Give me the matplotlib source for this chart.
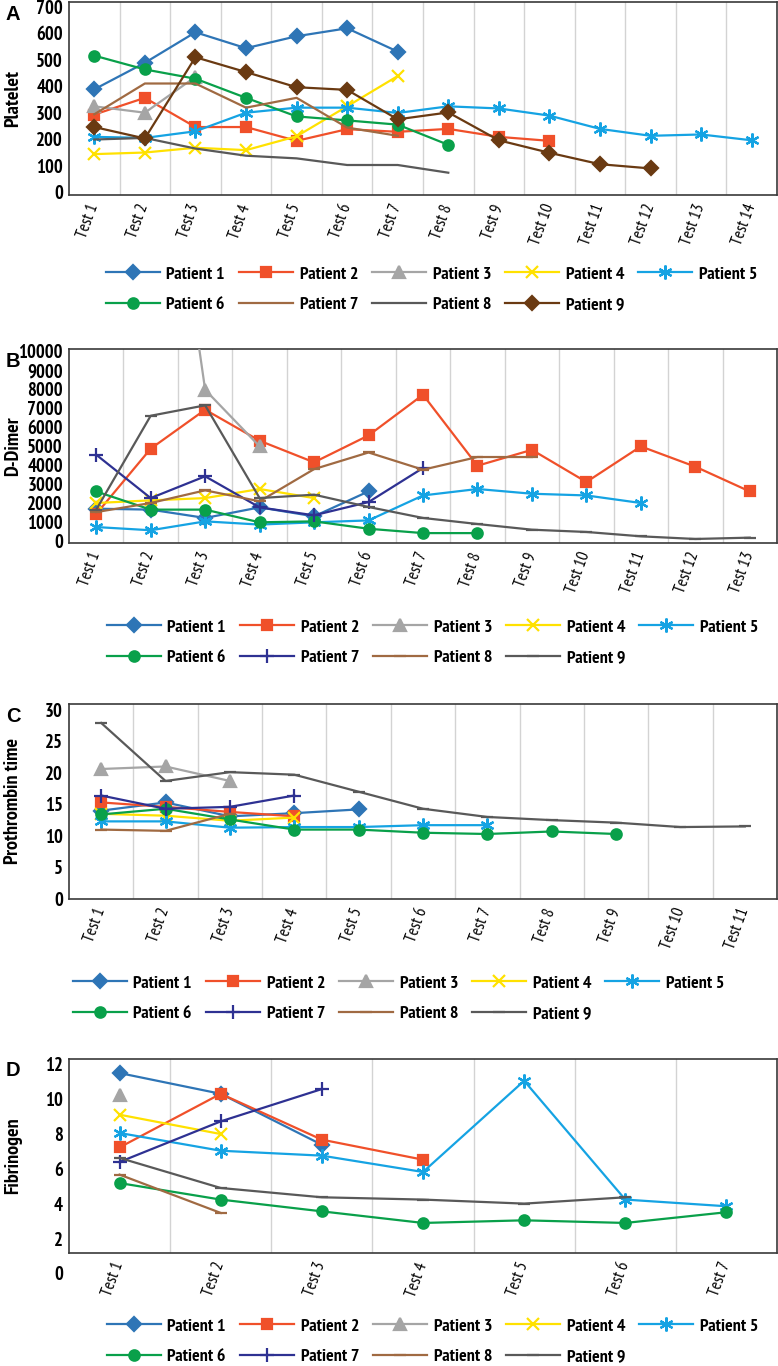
import numpy as np
import matplotlib
matplotlib.use('Agg')
import matplotlib.pyplot as plt

# condensed font first, fall back to whatever is installed
plt.rcParams['font.family'] = ['Liberation Sans Narrow', 'PT Sans Narrow', 'Asap Condensed',
                               'Barlow Semi Condensed', 'DejaVu Sans']

nan = np.nan
W, H = 778, 1366

patients = ['Patient 1', 'Patient 2', 'Patient 3', 'Patient 4', 'Patient 5',
            'Patient 6', 'Patient 7', 'Patient 8', 'Patient 9']

# ---- A: Platelet ----
platelet_tests = ['Test %d' % i for i in range(1, 15)]
platelet = [
    [388, 488, 603, 543, 588, 618, 530],
    [293, 356, 246, 246, 194, 238, 228, 239, 209, 194],
    [324, 300, 435],
    [144, 150, 168, 159, 211, 324, 438],
    [209, 205, 230, 300, 319, 319, 299, 324, 316, 289, 239, 213, 218, 196],
    [515, 463, 428, 356, 286, 271, 255, 179],
    [294, 410, 410, 319, 356, 244, 213],
    [199, 205, 165, 138, 128, 103, 103, 74],
    [246, 203, 509, 453, 396, 386, 275, 301, 196, 149, 106, 90],
]

# ---- B: D-Dimer ----
ddimer_tests = ['Test %d' % i for i in range(1, 14)]
ddimer = [
    [1690, 1640, 1200, 1760, 1285, 2605],
    [1410, 4860, 6920, 5280, 4140, 5560, 7710, 3960, 4800, 3100, 4980, 3910, 2600],
    [nan, 28000, 7970, 4980],
    [1990, 2130, 2250, 2730, 2250],
    [720, 550, 1020, 850, 970, 1070, 2390, 2730, 2480, 2390, 1990],
    [2600, 1640, 1640, 970, 1020, 630, 400, 400],
    [4540, 2250, 3400, 1760, 1340, 2040, 3840],
    [1510, 1990, 2660, 2080, 3780, 4660, 3750, 4420, 4420],
    [1640, 6600, 7150, 2250, 2430, 1780, 1200, 880, 580, 460, 230, 90, 160],
]

# ---- C: Prothrombin time ----
pt_tests = ['Test %d' % i for i in range(1, 12)]
prothrombin = [
    [14.0, 15.3, 13.1, 13.6, 14.2],
    [15.3, 14.6, 13.8, 13.1],
    [20.6, 21.0, 18.7],
    [13.5, 13.2, 12.4, 12.9],
    [12.3, 12.3, 11.3, 11.4, 11.4, 11.7, 11.7],
    [13.4, 14.3, 12.6, 11.0, 11.0, 10.5, 10.3, 10.7, 10.3],
    [16.4, 14.3, 14.6, 16.4],
    [11.0, 10.8, 13.5],
    [27.9, 18.7, 20.1, 19.7, 17.0, 14.3, 13.0, 12.5, 12.1, 11.4, 11.5],
]

# ---- D: Fibrinogen ----
fib_tests = ['Test %d' % i for i in range(1, 8)]
fibrinogen = [
    [11.47, 10.29, 7.39],
    [7.24, 10.29, 7.68, 6.54],
    [10.24],
    [9.10, 8.00],
    [8.06, 7.05, 6.77, 5.84, 11.03, 4.27, 3.89],
    [5.21, 4.27, 3.60, 2.94, 3.09, 2.94, 3.55],
    [6.41, 8.72, 10.56],
    [5.69, 3.51],
    [6.64, 4.93, 4.40, 4.27, 4.04, 4.40],
]

# colours / markers
BLUE, ORANGE, GRAY, YELLOW = '#2E75B6', '#F0502A', '#A5A5A5', '#FFE100'
SKY, GREEN, BROWN, DKGRAY = '#15A3E3', '#09A04A', '#A06A42', '#595959'
DKBROWN, NAVY = '#6A3A12', '#2E3192'
ASTER = (6, 2, 0)
base = [(BLUE, 'D', 7), (ORANGE, 's', 7), (GRAY, '^', 8), (YELLOW, 'x', 9),
        (SKY, ASTER, 10), (GREEN, 'o', 7.5)]
styles_a = base + [(BROWN, None, 0), (DKGRAY, None, 0), (DKBROWN, 'D', 7)]
styles_bcd = base + [(NAVY, '+', 10), (BROWN, '_', 8), (DKGRAY, '_', 8)]

# legend fills column by column -> reorder so rows read 1..5 / 6..9
leg_order = [0, 5, 1, 6, 2, 7, 3, 8, 4]

fig = plt.figure(figsize=(W / 100, H / 100), dpi=100)


def panel(top, bottom, letter, ylabel, tests, values, styles, ylim, yticks, leg_top, leg_left):
    ax = fig.add_axes([69 / W, 1 - bottom / H, 708 / W, (bottom - top) / H])
    n = len(tests)
    x = np.arange(1, n + 1)
    for vals, (c, m, ms), name in zip(values, styles, patients):
        ax.plot(x[:len(vals)], vals, color=c, lw=1.6, marker=m, ms=ms, mew=1.6,
                label=name, zorder=3)
    ax.set_xlim(0.5, n + 0.5)
    ax.set_ylim(*ylim)
    ax.set_yticks(yticks)
    ax.set_yticklabels([str(t) for t in yticks], fontsize=13.5, weight='semibold')
    ax.set_xticks(x)
    ax.set_xticklabels(tests, rotation=70, ha='right', va='center',
                       rotation_mode='anchor', fontsize=12, style='italic',
                       weight='medium')
    ax.set_xticks(np.arange(1.5, n), minor=True)
    ax.grid(which='minor', axis='x', color='#D3D3D3', lw=1)
    ax.tick_params(which='both', length=0)
    ax.tick_params(axis='y', pad=4.3)
    ax.tick_params(axis='x', pad=7)
    for s in ax.spines.values():
        s.set_color('#3A3A3A')
        s.set_linewidth(1.2)
    fig.text(13 / W, 1 - (top + bottom) / 2 / H, ylabel, rotation=90,
             ha='center', va='center', fontsize=14.5, weight='semibold')
    fig.text(13 / W, 1 - (top + 12) / H, letter, ha='center', va='center',
             fontsize=14.5, weight='bold', family='Liberation Sans')
    h, l = ax.get_legend_handles_labels()
    fig.legend([h[i] for i in leg_order], [l[i] for i in leg_order],
               loc='upper left', bbox_to_anchor=(leg_left / W, 1 - leg_top / H),
               ncol=5, frameon=False, prop={'size': 13, 'weight': 'semibold'},
               handlelength=3.0, handletextpad=0.35, columnspacing=0.78,
               borderpad=0, borderaxespad=0, labelspacing=0.78)
    return ax


panel(2, 195, 'A', 'Platelet', platelet_tests, platelet, styles_a,
      (-10, 717), list(range(0, 701, 100)), 266, 106)
panel(349, 543, 'B', 'D-Dimer', ddimer_tests, ddimer, styles_bcd,
      (-123, 10127), list(range(0, 10001, 1000)), 619, 107)
panel(704, 899, 'C', 'Prothrombin time', pt_tests, prothrombin, styles_bcd,
      (0, 30.9), list(range(0, 31, 5)), 975, 73)
axd = panel(1059, 1253, 'D', 'Fibrinogen', fib_tests, fibrinogen, styles_bcd,
            (1.23, 12.27), list(range(2, 13, 2)), 1318, 107)
axd.text(-0.0085, 0, '0', transform=axd.get_yaxis_transform(), ha='right',
         va='center', fontsize=13.5, weight='semibold', clip_on=False)

fig.savefig('out.png', dpi=100)
